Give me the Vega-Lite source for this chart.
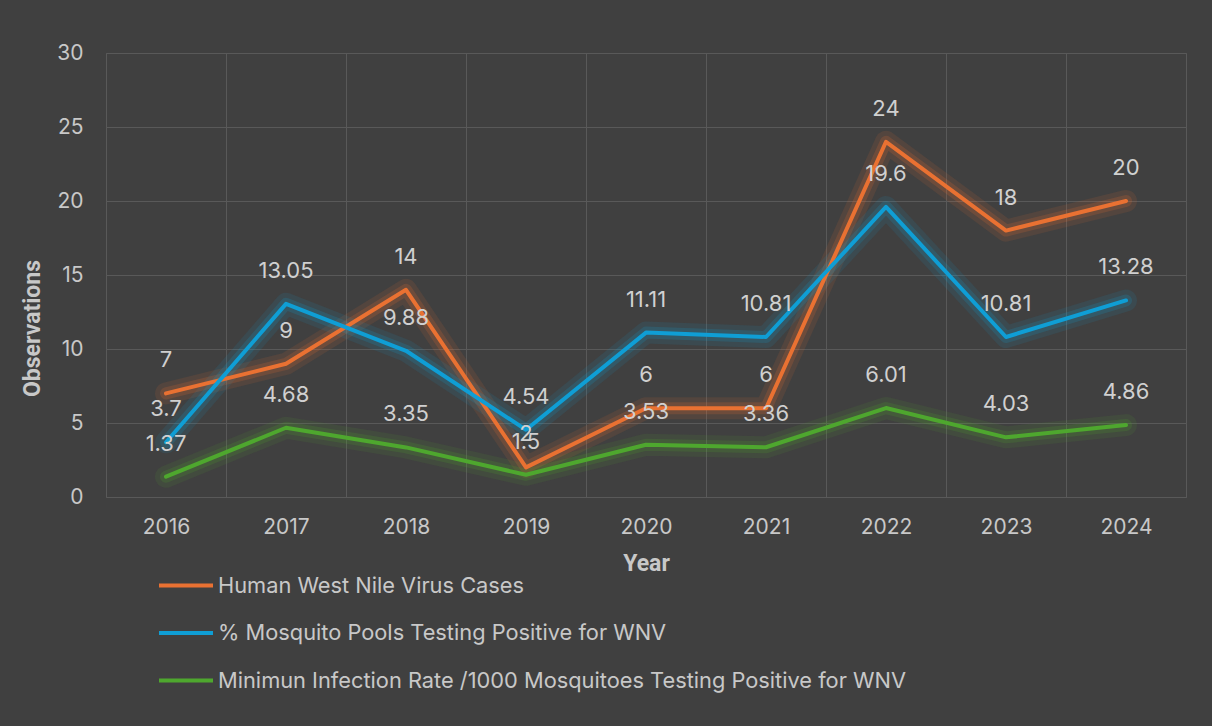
{
  "$schema": "https://vega.github.io/schema/vega-lite/v6.json",
  "width": 1080,
  "height": 444,
  "autosize": "none",
  "padding": {"left": 106, "top": 53, "right": 26, "bottom": 229},
  "background": "#404040",
  "data": {
    "values": [
      {"year": "2016", "series": "Human West Nile Virus Cases", "value": 7},
      {"year": "2017", "series": "Human West Nile Virus Cases", "value": 9},
      {"year": "2018", "series": "Human West Nile Virus Cases", "value": 14},
      {"year": "2019", "series": "Human West Nile Virus Cases", "value": 2},
      {"year": "2020", "series": "Human West Nile Virus Cases", "value": 6},
      {"year": "2021", "series": "Human West Nile Virus Cases", "value": 6},
      {"year": "2022", "series": "Human West Nile Virus Cases", "value": 24},
      {"year": "2023", "series": "Human West Nile Virus Cases", "value": 18},
      {"year": "2024", "series": "Human West Nile Virus Cases", "value": 20},
      {"year": "2016", "series": "% Mosquito Pools Testing Positive for WNV", "value": 3.7},
      {"year": "2017", "series": "% Mosquito Pools Testing Positive for WNV", "value": 13.05},
      {"year": "2018", "series": "% Mosquito Pools Testing Positive for WNV", "value": 9.88},
      {"year": "2019", "series": "% Mosquito Pools Testing Positive for WNV", "value": 4.54},
      {"year": "2020", "series": "% Mosquito Pools Testing Positive for WNV", "value": 11.11},
      {"year": "2021", "series": "% Mosquito Pools Testing Positive for WNV", "value": 10.81},
      {"year": "2022", "series": "% Mosquito Pools Testing Positive for WNV", "value": 19.6},
      {"year": "2023", "series": "% Mosquito Pools Testing Positive for WNV", "value": 10.81},
      {"year": "2024", "series": "% Mosquito Pools Testing Positive for WNV", "value": 13.28},
      {"year": "2016", "series": "Minimun Infection Rate /1000 Mosquitoes Testing Positive for WNV", "value": 1.37},
      {"year": "2017", "series": "Minimun Infection Rate /1000 Mosquitoes Testing Positive for WNV", "value": 4.68},
      {"year": "2018", "series": "Minimun Infection Rate /1000 Mosquitoes Testing Positive for WNV", "value": 3.35},
      {"year": "2019", "series": "Minimun Infection Rate /1000 Mosquitoes Testing Positive for WNV", "value": 1.5},
      {"year": "2020", "series": "Minimun Infection Rate /1000 Mosquitoes Testing Positive for WNV", "value": 3.53},
      {"year": "2021", "series": "Minimun Infection Rate /1000 Mosquitoes Testing Positive for WNV", "value": 3.36},
      {"year": "2022", "series": "Minimun Infection Rate /1000 Mosquitoes Testing Positive for WNV", "value": 6.01},
      {"year": "2023", "series": "Minimun Infection Rate /1000 Mosquitoes Testing Positive for WNV", "value": 4.03},
      {"year": "2024", "series": "Minimun Infection Rate /1000 Mosquitoes Testing Positive for WNV", "value": 4.86}
    ]
  },
  "encoding": {
    "x": {
      "field": "year", "type": "ordinal", "bandPosition": 0.5,
      "scale": {"type": "band", "paddingInner": 0, "paddingOuter": 0},
      "axis": {
        "title": "Year", "tickBand": "extent", "grid": true, "gridColor": "#595959", "gridWidth": 1,
        "domain": false, "ticks": false, "labelAngle": 0,
        "labelFont": "Inter", "labelFontSize": 21, "labelColor": "#C8C8C8", "labelPadding": 19,
        "titleFont": "Roboto", "titleFontSize": 23, "titleFontWeight": "bold", "titleColor": "#C8C8C8", "titlePadding": 15
      }
    },
    "y": {
      "field": "value", "type": "quantitative",
      "scale": {"domain": [0, 30], "nice": false, "zero": true},
      "axis": {
        "title": "Observations", "values": [0, 5, 10, 15, 20, 25, 30], "grid": true, "gridColor": "#595959", "gridWidth": 1,
        "domain": false, "ticks": false,
        "labelFont": "Inter", "labelFontSize": 21, "labelColor": "#C8C8C8", "labelPadding": 23,
        "titleFont": "Roboto", "titleFontSize": 23, "titleFontWeight": "bold", "titleColor": "#C8C8C8",
        "titleX": -74, "titleY": 275, "titleBaseline": "middle", "titleAngle": -90
      }
    },
    "color": {
      "field": "series", "type": "nominal",
      "sort": ["Human West Nile Virus Cases", "% Mosquito Pools Testing Positive for WNV", "Minimun Infection Rate /1000 Mosquitoes Testing Positive for WNV"],
      "scale": {
        "domain": ["Human West Nile Virus Cases", "% Mosquito Pools Testing Positive for WNV", "Minimun Infection Rate /1000 Mosquitoes Testing Positive for WNV"],
        "range": ["#E97132", "#0F9ED5", "#4EA72E"]
      },
      "legend": {
        "title": null, "orient": "none", "direction": "vertical", "legendX": 51, "legendY": 517, "padding": 0,
        "symbolType": "M-1,0L3,0", "symbolSize": 729, "symbolStrokeWidth": 4, "symbolOpacity": 1,
        "labelFont": "Inter", "labelFontSize": 21.8, "labelColor": "#C8C8C8", "labelOffset": 30, "labelLimit": 900,
        "rowPadding": 19.5
      }
    }
  },
  "layer": [
    {
      "mark": {"type": "line", "strokeWidth": 22, "opacity": 0.11, "strokeJoin": "round", "strokeCap": "round"}
    },
    {
      "mark": {"type": "line", "strokeWidth": 12, "opacity": 0.18, "strokeJoin": "round", "strokeCap": "round"}
    },
    {
      "mark": {"type": "line", "strokeWidth": 4, "strokeJoin": "round", "strokeCap": "round"}
    },
    {
      "mark": {"type": "text", "dy": -33, "baseline": "middle", "font": "Inter", "fontSize": 22, "color": "#D0D0D0"},
      "encoding": {
        "text": {"field": "value", "type": "nominal"},
        "color": {"value": "#D0D0D0"}
      }
    }
  ],
  "config": {
    "view": {"stroke": "#595959", "strokeWidth": 1}
  }
}
